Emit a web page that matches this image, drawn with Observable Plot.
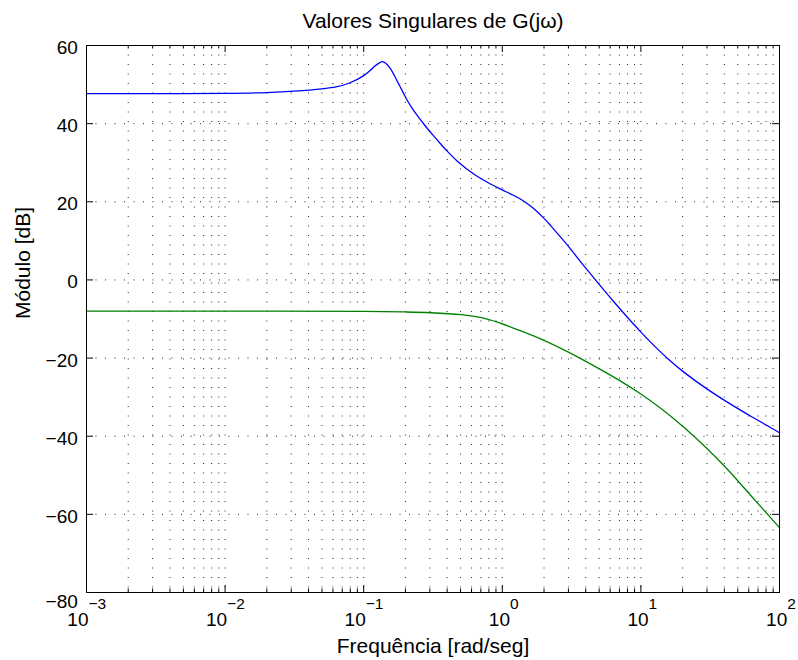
<!DOCTYPE html>
<html>
<head>
<meta charset="utf-8">
<script src="https://cdn.jsdelivr.net/npm/d3@7"></script>
<script src="https://cdn.jsdelivr.net/npm/@observablehq/plot@0.6"></script>
<style>
  html, body { margin: 0; padding: 0; background: #ffffff; }
</style>
</head>
<body>
<div id="chart"></div>
<script>
// ---- Text ----
const titleText = "Valores Singulares de G(jω)";
const xLabel = "Frequência [rad/seg]";
const yLabel = "Módulo [dB]";

// ---- Axes ----
const xDomain = [1e-3, 1e2];
const yDomain = [-80, 60];
const yTicks = [-80, -60, -40, -20, 0, 20, 40, 60];
const yTickLabels = ["−80", "−60", "−40", "−20", "0", "20", "40", "60"];
const xDecades = [1e-3, 1e-2, 1e-1, 1, 10, 100];
const xExponents = ["−3", "−2", "−1", "0", "1", "2"];

// ---- Series: maximum singular value (blue) ----
const freqBlue = [0.001, 0.00316, 0.01, 0.02, 0.0316, 0.05, 0.063, 0.079, 0.1, 0.112, 0.12, 0.129, 0.136,
  0.145, 0.155, 0.166, 0.178, 0.191, 0.206, 0.224, 0.251, 0.272, 0.316, 0.358, 0.398, 0.472, 0.622, 0.822,
  1.0, 1.21, 1.35, 1.51, 1.69, 2.0, 2.24, 2.94, 3.8, 4.83, 6.31, 7.96, 10, 12.6, 15.8, 20.4, 30.1, 46.8, 68.9, 100];
const dbBlue = [47.7, 47.7, 47.75, 47.95, 48.3, 48.9, 49.4, 50.4, 52.3, 53.7, 54.7, 55.5, 55.85,
  55.4, 54.2, 52.4, 50.3, 48.2, 46.0, 43.9, 41.45, 39.85, 37.05, 34.85, 33.05, 30.45, 27.1, 24.55,
  23.05, 21.6, 20.7, 19.55, 18.2, 15.75, 13.85, 8.95, 4.0, -0.5, -5.4, -9.5, -13.35, -17.0, -20.3, -23.6, -27.95, -32.3, -35.8, -39.1];

// ---- Series: minimum singular value (green) ----
const freqGreen = [0.001, 0.01, 0.1, 0.2, 0.303, 0.5, 0.708, 0.918, 1.26, 1.89, 3.02, 4.83, 7.13, 9.93,
  13.8, 20.4, 30.1, 41.9, 61.8, 100];
const dbGreen = [-8.0, -8.0, -8.05, -8.2, -8.4, -8.9, -9.65, -10.8, -12.6, -15.1, -18.55, -22.45, -25.9, -29.15,
  -32.8, -37.7, -43.2, -48.4, -55.1, -63.4];

// ---- Build tables ----
const blue = freqBlue.map((f, i) => ({f, db: dbBlue[i]}));
const green = freqGreen.map((f, i) => ({f, db: dbGreen[i]}));

const isMajor = v => Math.abs(Math.log10(v) - Math.round(Math.log10(v))) < 1e-6;
const xAll = d3.scaleLog().domain(xDomain).ticks();
const xMinor = xAll.filter(v => !isMajor(v));
const gridX = xAll.filter(v => v > xDomain[0] * 1.0001 && v < xDomain[1] * 0.9999);
const gridY = yTicks.filter(v => v > yDomain[0] && v < yDomain[1]);

const yRows = yTicks.map((v, i) => ({v, label: yTickLabels[i]}));
const xRows = xDecades.map((v, i) => ({v, base: "10", exp: xExponents[i], neg: xExponents[i].startsWith("−")}));

const dotted = {stroke: "#000", strokeWidth: 1, strokeDasharray: "1,8.5", strokeOpacity: 0.85};
const MAJ = 7, MIN = 3.5;

const chart = Plot.plot({
  width: 798,
  height: 660,
  marginTop: 45,
  marginLeft: 86,
  marginRight: 19,
  marginBottom: 68,
  style: {fontFamily: "'Liberation Sans', Arial, Helvetica, sans-serif", background: "#ffffff", color: "#000"},
  x: {type: "log", domain: xDomain, axis: null},
  y: {type: "linear", domain: yDomain, axis: null},
  marks: [
    // grid
    Plot.ruleX(gridX, {x: d => d, ...dotted}),
    Plot.ruleY(gridY, {y: d => d, ...dotted}),
    // curves
    Plot.line(blue, {x: "f", y: "db", stroke: "#0000ff", strokeWidth: 1.3, curve: "catmull-rom"}),
    Plot.line(green, {x: "f", y: "db", stroke: "#008000", strokeWidth: 1.3, curve: "catmull-rom"}),
    // box
    Plot.frame({stroke: "#000", strokeWidth: 1}),
    // inward ticks: bottom / top
    Plot.ruleX(xDecades, {x: d => d, y1: yDomain[0], y2: yDomain[0], insetTop: -MAJ, stroke: "#000"}),
    Plot.ruleX(xDecades, {x: d => d, y1: yDomain[1], y2: yDomain[1], insetBottom: -MAJ, stroke: "#000"}),
    Plot.ruleX(xMinor, {x: d => d, y1: yDomain[0], y2: yDomain[0], insetTop: -MIN, stroke: "#000"}),
    Plot.ruleX(xMinor, {x: d => d, y1: yDomain[1], y2: yDomain[1], insetBottom: -MIN, stroke: "#000"}),
    // inward ticks: left / right
    Plot.ruleY(yTicks, {y: d => d, x1: xDomain[0], x2: xDomain[0], insetRight: -MAJ, stroke: "#000"}),
    Plot.ruleY(yTicks, {y: d => d, x1: xDomain[1], x2: xDomain[1], insetLeft: -MAJ, stroke: "#000"}),
    // y tick labels
    Plot.text(yRows.filter(d => d.v !== yDomain[0]), {y: "v", text: "label", frameAnchor: "left",
      textAnchor: "end", lineAnchor: "bottom", dx: -8.7, dy: 8.5, fontSize: 19}),
    Plot.text(yRows.filter(d => d.v === yDomain[0]), {y: "v", text: "label", frameAnchor: "left",
      textAnchor: "end", lineAnchor: "bottom", dx: -8.7, dy: 15.5, fontSize: 19}),
    // x tick labels: base "10" and exponent
    Plot.text(xRows.filter(d => d.neg), {x: "v", text: "base", frameAnchor: "bottom",
      textAnchor: "end", lineAnchor: "bottom", dx: 2, dy: 33, fontSize: 19}),
    Plot.text(xRows.filter(d => !d.neg), {x: "v", text: "base", frameAnchor: "bottom",
      textAnchor: "end", lineAnchor: "bottom", dx: 7.7, dy: 33, fontSize: 19}),
    Plot.text(xRows.filter(d => d.neg), {x: "v", text: "exp", frameAnchor: "bottom",
      textAnchor: "start", lineAnchor: "bottom", dx: 2, dy: 16, fontSize: 15.5}),
    Plot.text(xRows.filter(d => !d.neg), {x: "v", text: "exp", frameAnchor: "bottom",
      textAnchor: "start", lineAnchor: "bottom", dx: 7.7, dy: 16, fontSize: 15.5}),
    // title and axis labels
    Plot.text([titleText], {text: d => d, frameAnchor: "top", lineAnchor: "bottom", dy: -18, fontSize: 21}),
    Plot.text([xLabel], {text: d => d, frameAnchor: "bottom", lineAnchor: "bottom", dy: 60, fontSize: 21}),
    Plot.text([yLabel], {text: d => d, frameAnchor: "left", rotate: -90, lineAnchor: "bottom", dx: -57, fontSize: 21})
  ]
});
document.getElementById("chart").appendChild(chart);
</script>
</body>
</html>
